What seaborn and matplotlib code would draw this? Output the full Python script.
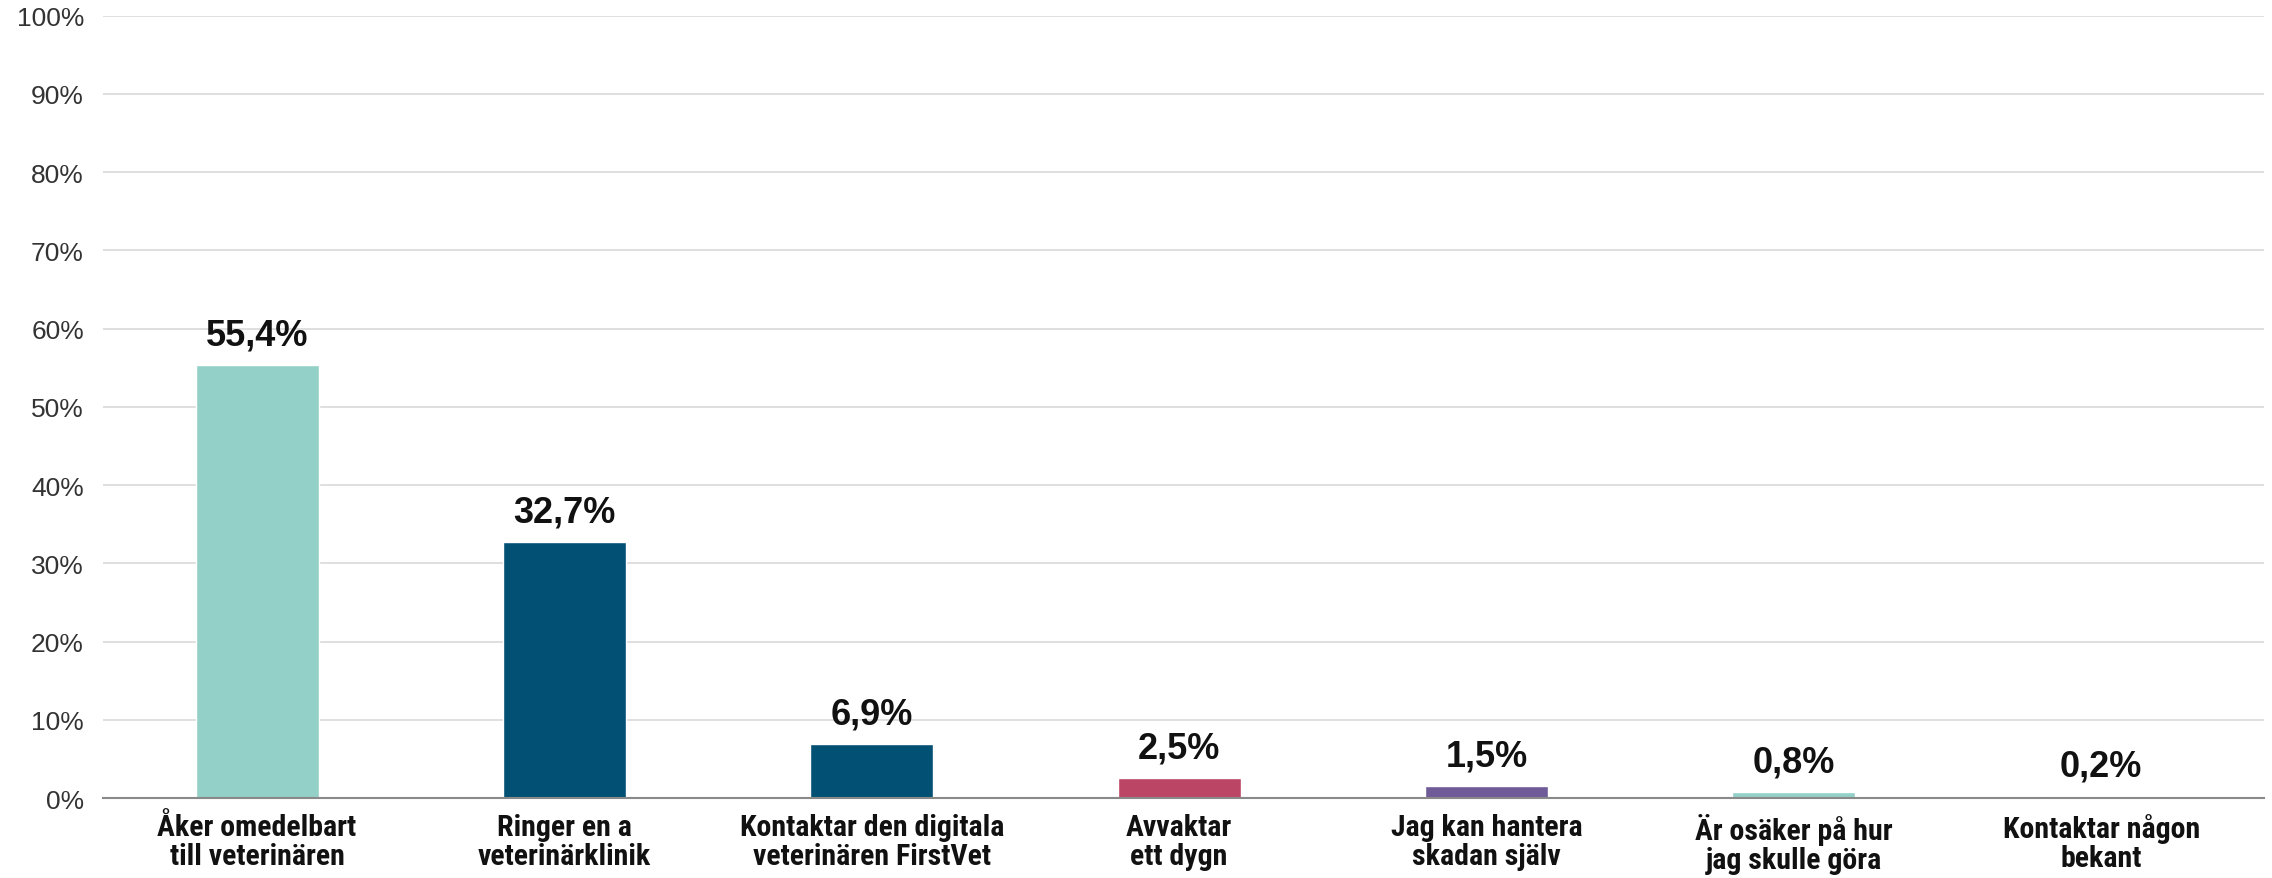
import matplotlib
matplotlib.use('Agg')
import matplotlib.pyplot as plt
from matplotlib import font_manager as fm
import seaborn as sns
import pandas as pd
from matplotlib.ticker import PercentFormatter

# --- DATA ---
categories = [
    "Åker omedelbart\ntill veterinären",
    "Ringer en a\nveterinärklinik",
    "Kontaktar den digitala\nveterinären FirstVet",
    "Avvaktar\nett dygn",
    "Jag kan hantera\nskadan själv",
    "Är osäker på hur\njag skulle göra",
    "Kontaktar någon\nbekant",
]
values = [55.4, 32.7, 6.9, 2.5, 1.5, 0.8, 0.2]
value_labels = ["55,4%", "32,7%", "6,9%", "2,5%", "1,5%", "0,8%", "0,2%"]
bar_colors = ["#93d0c8", "#025174", "#025174", "#bb4565", "#6e5b97", "#93d0c8", "#f0c63c"]

df = pd.DataFrame({"kategori": categories, "andel": values})

sns.set_style("white")
plt.rcParams['font.family'] = ['Liberation Sans', 'DejaVu Sans']

# pick a narrow font for the category labels if one is installed
installed = {(f.name, f.stretch) for f in fm.fontManager.ttflist}
names = {n for n, _ in installed}
narrow_family, narrow_stretch = 'Liberation Sans', 'normal'
for cand in ['Liberation Sans Narrow', 'Roboto Condensed', 'Open Sans Condensed']:
    if cand in names:
        narrow_family = cand
        break
else:
    if any(n == 'DejaVu Sans' and s == 'condensed' for n, s in installed):
        narrow_family, narrow_stretch = 'DejaVu Sans', 'condensed'

fig = plt.figure(figsize=(22.72, 8.79), dpi=100)
ax = fig.add_axes([0.0455, 0.091, 0.951, 0.89])

sns.barplot(data=df, x="kategori", y="andel", hue="kategori", palette=bar_colors,
            legend=False, width=0.4, saturation=1, ax=ax, zorder=3)

ax.set_ylim(0, 100)
ax.set_xlim(-0.5, 6.53)
ax.set_yticks(range(0, 101, 10))
ax.yaxis.set_major_formatter(PercentFormatter(decimals=0))
ax.grid(axis='y', color='#d9d9d9', linewidth=1.2, zorder=0)
ax.set_xlabel("")
ax.set_ylabel("")

for s in ['top', 'right', 'left']:
    ax.spines[s].set_visible(False)
ax.spines['bottom'].set_color('#898989')
ax.spines['bottom'].set_linewidth(1.5)
ax.spines['bottom'].set_zorder(4)

ax.tick_params(axis='y', length=0, labelsize=19, labelcolor='#333333', pad=14)
ax.tick_params(axis='x', length=0, pad=11)
for lbl in ax.get_xticklabels():
    lbl.set_family(narrow_family)
    lbl.set_stretch(narrow_stretch)
    lbl.set_fontweight('bold')
    lbl.set_fontsize(21.5 if narrow_family != 'Liberation Sans' else 19)
    lbl.set_linespacing(1.05)
    lbl.set_color('#111111')

# value labels above bars
for i, (v, txt) in enumerate(zip(values, value_labels)):
    ax.annotate(txt, (i, v), xytext=(0, 9), textcoords='offset points',
                ha='center', va='bottom', fontsize=26, fontweight='bold', color='#111111')

fig.savefig("out.png", dpi=100)
